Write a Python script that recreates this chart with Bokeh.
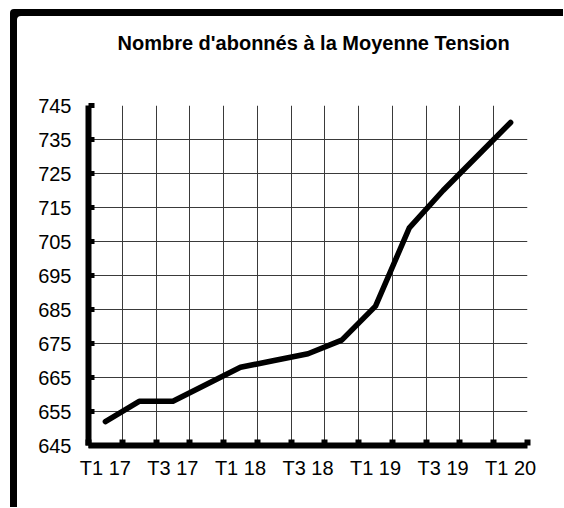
from bokeh.plotting import figure
from bokeh.models import FixedTicker, Range1d, Title
from bokeh.embed import file_html
from bokeh.resources import INLINE

categories = ["T1 17", "T2 17", "T3 17", "T4 17", "T1 18", "T2 18", "T3 18",
              "T4 18", "T1 19", "T2 19", "T3 19", "T4 19", "T1 20"]
subscribers = [652, 658, 658, 663, 668, 670, 672, 676, 686, 709, 720, 730, 740]
y_ticks = [645, 655, 665, 675, 685, 695, 705, 715, 725, 735, 745]
title_text = "Nombre d'abonnés à la Moyenne Tension"

FONT = "Liberation Sans"
xs = list(range(len(categories)))
labelled = xs[::2]
boundaries = [i - 0.5 for i in range(len(categories) + 1)]

p = figure(frame_width=439, frame_height=340,
           x_range=Range1d(-0.5, len(categories) - 0.5),
           y_range=Range1d(y_ticks[0], y_ticks[-1]),
           output_backend="svg", toolbar_location=None,
           min_border_left=78, min_border_top=96,
           min_border_right=36, min_border_bottom=62,
           border_fill_color=None, outline_line_color=None,
           background_fill_color="white")
p.styles = {"margin-left": "10px", "margin-top": "9px",
            "box-shadow": "inset 7px 7px 0 0 black",
            "border-top-left-radius": "4px"}

xt = FixedTicker(ticks=labelled, minor_ticks=boundaries)
p.xaxis.ticker = xt
p.xaxis.major_label_overrides = {i: categories[i] for i in labelled}
p.xaxis.major_tick_in = 0
p.xaxis.major_tick_out = 0
p.xaxis.major_tick_line_color = None
p.xaxis.minor_tick_in = 6
p.xaxis.minor_tick_out = 0
p.xaxis.minor_tick_line_width = 6
p.xaxis.minor_tick_line_color = "black"
p.xaxis.major_label_standoff = 11

p.yaxis.ticker = FixedTicker(ticks=y_ticks)
p.yaxis.major_tick_in = 6
p.yaxis.major_tick_out = 0
p.yaxis.major_tick_line_width = 5
p.yaxis.minor_tick_line_color = None
p.yaxis.major_label_standoff = 17

for ax in (p.xaxis, p.yaxis):
    ax.axis_line_width = 6
    ax.axis_line_color = "black"
    ax.major_label_text_font = FONT
    ax.major_label_text_font_size = "20px"
    ax.major_label_text_color = "black"

p.xgrid.grid_line_color = None
p.xgrid.minor_grid_line_color = "#3a3a3a"
p.xgrid.minor_grid_line_width = 1
p.ygrid.grid_line_color = "#3a3a3a"
p.ygrid.grid_line_width = 1

p.line(xs, subscribers, line_width=5.5, line_color="black",
       line_cap="round", line_join="round")

# spacer (nearest the frame), then the title above it
p.add_layout(Title(text=" ", text_font_size="10px", standoff=38.7), "above")
p.add_layout(Title(text=title_text, text_font=FONT, text_font_style="bold",
                   text_font_size="20px", text_color="black",
                   align="left", offset=29, standoff=0), "above")

open("out.html", "w").write(file_html(p, INLINE))
